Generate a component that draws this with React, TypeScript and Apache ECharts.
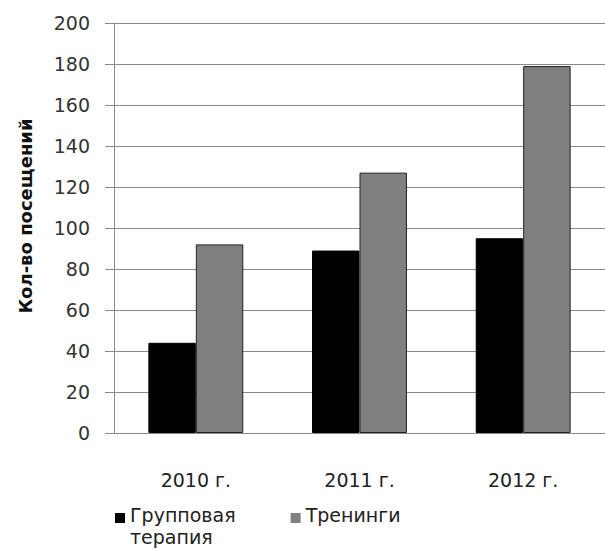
import React, { useEffect, useRef } from "react";
import * as echarts from "echarts";

const categories = ["2010 г.", "2011 г.", "2012 г."];
const groupTherapy = [44, 89, 95];
const trainings = [92, 127, 179];
const seriesNames = ["Групповая терапия", "Тренинги"];
const yTitle = "Кол-во посещений";

export default function App() {
  const ref = useRef<HTMLDivElement>(null);
  useEffect(() => {
    if (!ref.current) return;
    const chart = echarts.init(ref.current, undefined, { renderer: "svg" });
    const font = "'DejaVu Sans', sans-serif";
    chart.setOption({
      animation: false,
      backgroundColor: "#ffffff",
      grid: { left: 114, right: -6, top: 23, bottom: 116 },
      legend: {
        left: 110,
        top: 499,
        itemWidth: 10,
        itemHeight: 26,
        itemGap: 55,
        icon: "path://M0,0L10,0L10,10L0,10Z M5,26Z",
        itemStyle: { borderWidth: 0 },
        formatter: (n: string) => (n.includes(" ") ? n.replace(" ", "\n") : n + "\n "),
        textStyle: {
          fontFamily: font,
          fontSize: 19,
          color: "#222",
          lineHeight: 22,
        },
        data: seriesNames,
      },
      xAxis: {
        type: "category",
        data: categories,
        axisLine: { lineStyle: { color: "#8a8a8a", width: 1 } },
        axisTick: { length: 5, lineStyle: { color: "#8a8a8a" } },
        axisLabel: { fontFamily: font, fontSize: 19, color: "#222", margin: 37 },
      },
      yAxis: {
        type: "value",
        min: 0,
        max: 200,
        interval: 20,
        name: yTitle,
        nameLocation: "middle",
        nameRotate: 90,
        nameGap: 80,
        nameTextStyle: {
          fontFamily: font,
          fontSize: 18,
          fontWeight: "bold",
          color: "#111",
          padding: [0, 0, 0, 24],
        },
        axisLine: { show: true, lineStyle: { color: "#8a8a8a", width: 1 } },
        axisTick: { show: true, length: 9, lineStyle: { color: "#8a8a8a" } },
        axisLabel: { fontFamily: font, fontSize: 19, color: "#333", margin: 24 },
        splitLine: { lineStyle: { color: "#8a8a8a", width: 1 } },
      },
      series: [
        {
          name: seriesNames[0],
          type: "bar",
          data: groupTherapy,
          barGap: "0%",
          barCategoryGap: "42%",
          itemStyle: { color: "#000000", borderColor: "#000", borderWidth: 1 },
        },
        {
          name: seriesNames[1],
          type: "bar",
          data: trainings,
          itemStyle: { color: "#7f7f7f", borderColor: "#222", borderWidth: 1 },
        },
      ],
    });
    return () => chart.dispose();
  }, []);
  return (
    <div
      ref={ref}
      style={{ position: "fixed", left: 0, top: 0, width: 605, height: 549 }}
    />
  );
}
